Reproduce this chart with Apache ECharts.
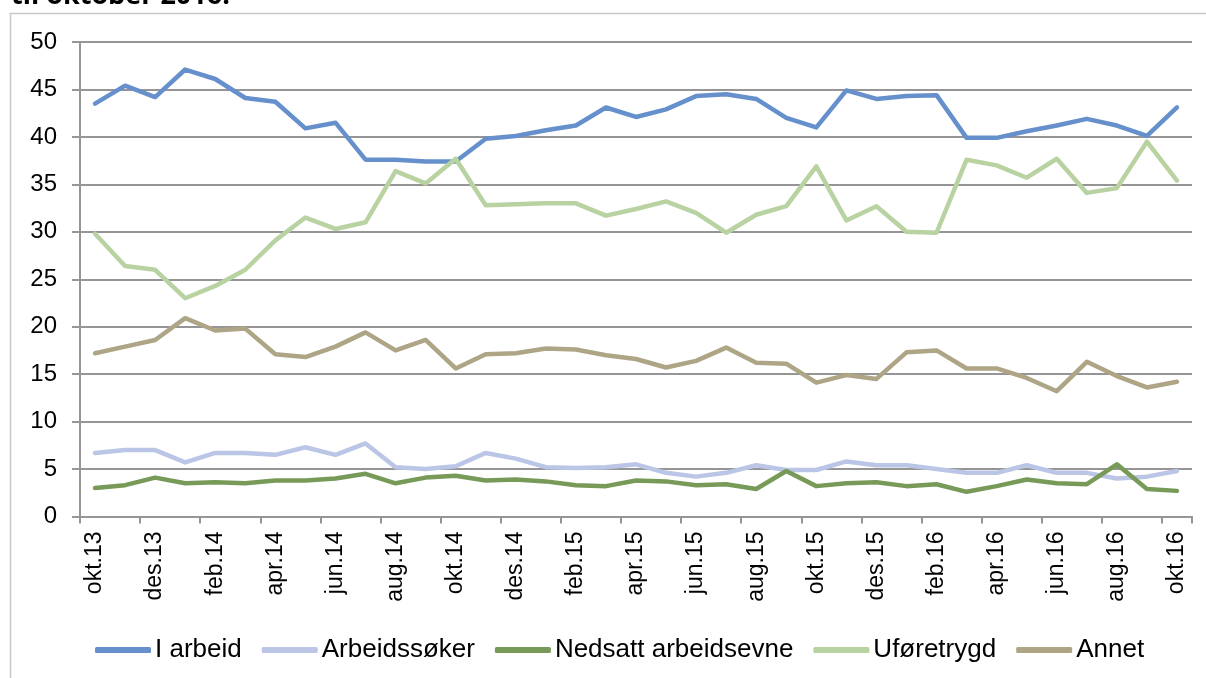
<!DOCTYPE html>
<html>
<head>
<meta charset="utf-8">
<script src="https://cdn.jsdelivr.net/npm/echarts@6/dist/echarts.min.js"></script>
<style>
html,body{margin:0;padding:0;background:#fff;}
#chart{width:1206px;height:678px;}
</style>
</head>
<body>
<div id="chart"></div>
<script>
const categories = ['okt.13','nov.13','des.13','jan.14','feb.14','mar.14','apr.14','mai.14','jun.14','jul.14','aug.14','sep.14',
  'okt.14','nov.14','des.14','jan.15','feb.15','mar.15','apr.15','mai.15','jun.15','jul.15','aug.15','sep.15',
  'okt.15','nov.15','des.15','jan.16','feb.16','mar.16','apr.16','mai.16','jun.16','jul.16','aug.16','sep.16','okt.16'];

const iArbeid = [43.5,45.4,44.2,47.1,46.1,44.1,43.7,40.9,41.5,37.6,37.6,37.4,
  37.4,39.8,40.1,40.7,41.2,43.1,42.1,42.9,44.3,44.5,44.0,42.0,
  41.0,44.9,44.0,44.3,44.4,39.9,39.9,40.6,41.2,41.9,41.2,40.1,43.1];

const arbeidssoker = [6.7,7.0,7.0,5.7,6.7,6.7,6.5,7.3,6.5,7.7,5.2,5.0,
  5.3,6.7,6.1,5.2,5.1,5.2,5.5,4.6,4.2,4.6,5.4,4.9,
  4.9,5.8,5.4,5.4,5.0,4.6,4.6,5.4,4.6,4.6,4.0,4.2,4.8];

const nedsatt = [3.0,3.3,4.1,3.5,3.6,3.5,3.8,3.8,4.0,4.5,3.5,4.1,
  4.3,3.8,3.9,3.7,3.3,3.2,3.8,3.7,3.3,3.4,2.9,4.8,
  3.2,3.5,3.6,3.2,3.4,2.6,3.2,3.9,3.5,3.4,5.5,2.9,2.7];

const uforetrygd = [29.8,26.4,26.0,23.0,24.3,26.0,29.1,31.5,30.3,31.0,36.4,35.1,
  37.7,32.8,32.9,33.0,33.0,31.7,32.4,33.2,32.0,29.9,31.8,32.7,
  36.9,31.2,32.7,30.0,29.9,37.6,37.0,35.7,37.7,34.1,34.6,39.5,35.4];

const annet = [17.2,17.9,18.6,20.9,19.6,19.8,17.1,16.8,17.9,19.4,17.5,18.6,
  15.6,17.1,17.2,17.7,17.6,17.0,16.6,15.7,16.4,17.8,16.2,16.1,
  14.1,14.9,14.5,17.3,17.5,15.6,15.6,14.6,13.2,16.3,14.8,13.6,14.2];

const yTicks = {min:0, max:50, interval:5};
const titleText = 'til oktober 2016.';

const seriesDefs = [
  {name:'I arbeid', data:iArbeid, color:'#6690CB'},
  {name:'Arbeidssøker', data:arbeidssoker, color:'#BBC5E6'},
  {name:'Nedsatt arbeidsevne', data:nedsatt, color:'#789A58'},
  {name:'Uføretrygd', data:uforetrygd, color:'#B9D2A1'},
  {name:'Annet', data:annet, color:'#AEA586'}
];

const chart = echarts.init(document.getElementById('chart'), null, {renderer:'canvas'});
const font = '"Liberation Sans", Arial, sans-serif';
const gridColor = '#959595';

chart.setOption({
  animation:false,
  backgroundColor:'#fff',
  textStyle:{fontFamily:font},
  graphic:[
    {type:'rect', shape:{x:10.5, y:13.5, width:1300, height:800}, style:{fill:'none', stroke:'#c8c8c8', lineWidth:1.5}, silent:true, z:-10},
    {type:'text', left:11, top:-17, style:{text:titleText, font:'bold 27px "Open Sans", "Liberation Sans", sans-serif', fill:'#000'}}
  ],
  grid:{left:80, right:14, top:42, bottom:161.5, containLabel:false},
  legend:{
    left:90, top:632,
    icon:'roundRect', itemWidth:56, itemHeight:6, itemGap:20,
    textStyle:{fontSize:26, color:'#000', fontFamily:font, padding:[0,0,0,-1]},
    data:seriesDefs.map(s=>s.name)
  },
  xAxis:{
    type:'category', data:categories, boundaryGap:true,
    axisLine:{lineStyle:{color:gridColor, width:2}},
    axisTick:{show:true, interval:1, length:7, lineStyle:{color:gridColor, width:2}},
    axisLabel:{interval:1, rotate:90, fontSize:23, color:'#000', margin:15, fontFamily:font},
    splitLine:{show:false}
  },
  yAxis:{
    type:'value', min:yTicks.min, max:yTicks.max, interval:yTicks.interval,
    axisLine:{show:true, lineStyle:{color:gridColor, width:2}},
    axisTick:{show:true, length:8, lineStyle:{color:gridColor, width:2}},
    axisLabel:{fontSize:24, color:'#000', margin:23, fontFamily:font},
    splitLine:{show:true, lineStyle:{color:gridColor, width:2}}
  },
  series:seriesDefs.map(s=>({
    name:s.name, type:'line', data:s.data, symbol:'none', smooth:false,
    lineStyle:{color:s.color, width:4.5, cap:'round', join:'round'},
    itemStyle:{color:s.color}
  }))
});
</script>
</body>
</html>
